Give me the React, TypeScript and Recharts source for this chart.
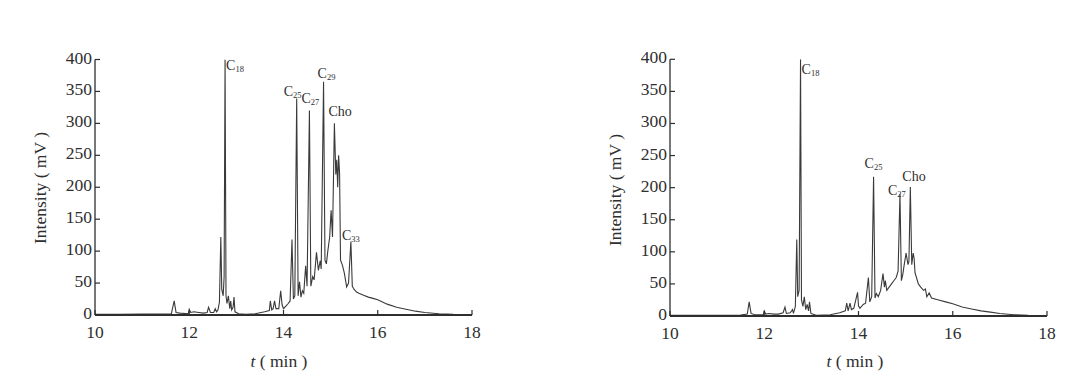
import React from "react";
import { LineChart, Line, XAxis, YAxis, ReferenceDot } from "recharts";

// left chromatogram (t in min, intensity in mV)
const leftTime = [
  10.0, 10.5, 11.0, 11.5, 11.62, 11.68, 11.72, 11.8, 11.98, 12.0, 12.03, 12.1, 12.2, 12.3, 12.38, 12.41,
  12.45, 12.52, 12.55, 12.58, 12.61, 12.64, 12.67, 12.69, 12.72, 12.74, 12.76, 12.78, 12.8, 12.83, 12.86,
  12.88, 12.9, 12.93, 12.95, 12.97, 13.05, 13.2, 13.4, 13.6, 13.7, 13.72, 13.75, 13.78, 13.81, 13.84, 13.9,
  13.94, 13.97, 14.0, 14.05, 14.1, 14.14, 14.18, 14.21, 14.24, 14.28, 14.31, 14.34, 14.37, 14.4, 14.43,
  14.47, 14.5, 14.55, 14.58, 14.62, 14.65, 14.7, 14.74, 14.78, 14.8, 14.85, 14.88, 14.91, 14.94, 14.98,
  15.01, 15.04, 15.08, 15.11, 15.13, 15.15, 15.17, 15.19, 15.21, 15.25, 15.29, 15.34, 15.38, 15.43, 15.46,
  15.5, 15.55, 15.6, 15.7, 15.8, 15.9, 16.0, 16.2, 16.4, 16.6, 16.8, 17.0, 17.3, 17.6, 17.9,
];
const leftIntensity = [
  1, 1, 1.5, 1.5, 2, 22, 4, 3, 2, 9, 4, 5, 4, 3, 4, 12,
  4, 4, 10, 5, 8, 20, 122, 40, 30, 60, 400, 30, 18, 30, 10,
  22, 8, 12, 28, 5, 2, 1, 2, 5, 7, 22, 8, 10, 22, 10, 10,
  38, 16, 10, 14, 18, 22, 118, 25, 30, 339, 30, 52, 28, 38, 34,
  77, 45, 320, 45, 60, 55, 98, 70, 85, 72, 365, 86, 80, 100, 122,
  164, 122, 300, 220, 243, 200, 250, 222, 86, 78, 66, 44, 50, 115, 45,
  40, 36, 34, 31, 28, 26, 24, 17, 12, 9, 6, 4, 2, 1, 0.5,
];

// right chromatogram
const rightTime = [
  10.0, 11.0, 11.5, 11.64, 11.68, 11.72, 11.8, 11.98, 12.0, 12.03, 12.1, 12.2, 12.3, 12.4, 12.44, 12.47,
  12.55, 12.6, 12.62, 12.66, 12.69, 12.71, 12.74, 12.77, 12.79, 12.82, 12.85, 12.88, 12.91, 12.94, 12.96,
  12.99, 13.1, 13.4, 13.6, 13.72, 13.75, 13.78, 13.82, 13.85, 13.9, 13.98, 14.0, 14.03, 14.1, 14.15, 14.21,
  14.24, 14.28, 14.32, 14.35, 14.38, 14.42, 14.47, 14.52, 14.55, 14.57, 14.6, 14.65, 14.7, 14.75, 14.8,
  14.84, 14.88, 14.91, 14.94, 14.97, 15.01, 15.05, 15.07, 15.1, 15.13, 15.16, 15.18, 15.2, 15.23, 15.27,
  15.32, 15.38, 15.42, 15.45, 15.5, 15.55, 15.7, 15.85, 16.0, 16.2, 16.4, 16.6, 16.8, 17.0, 17.3, 17.6, 17.9,
];
const rightIntensity = [
  1, 1, 1.5, 3, 22, 4, 2, 2, 8, 3, 4, 3, 3, 5, 14, 4,
  5, 10, 4, 15, 119, 30, 40, 400, 25, 15, 30, 10, 18, 8, 22,
  4, 1, 2, 5, 8, 20, 8, 20, 10, 12, 37, 16, 12, 18, 20, 60,
  22, 30, 217, 28, 35, 30, 40, 66, 45, 55, 40, 45, 50, 55, 60,
  70, 190, 55, 65, 80, 98, 80, 85, 201, 80, 98, 90, 67, 60, 50,
  45, 40, 42, 30, 36, 28, 25, 22, 19, 14, 11, 8, 6, 4, 2, 1, 0.5,
];

const xTicks = [10, 12, 14, 16, 18];
const yTicks = [0, 50, 100, 150, 200, 250, 300, 350, 400];

const leftPeakNames = ["C18", "C25", "C27", "C29", "Cho", "C33"];
const leftPeakTimes = [12.76, 14.28, 14.55, 14.85, 15.08, 15.43];
const rightPeakNames = ["C18", "C25", "C27", "Cho"];
const rightPeakTimes = [12.77, 14.32, 14.88, 15.1];

// label offsets from the peak tip, in px
const leftOffsets: [number, number][] = [[2, 11], [-12, -1], [-7, -7], [-5, -3], [-5, -6], [-8, -1]];
const rightOffsets: [number, number][] = [[2, 16], [-8, -8], [-11, 2], [-7, -5]];

const INK = "#2e2e2e";
const FONT = "'Liberation Serif', 'DejaVu Serif', serif";

function PeakLabel(props: any) {
  const { viewBox, name, dx, dy } = props;
  const x = viewBox.x + dx;
  const y = viewBox.y + dy;
  const base = name.startsWith("C") && name !== "Cho" ? "C" : name;
  const sub = base === "C" ? name.slice(1) : "";
  return (
    <text x={x} y={y} fontSize={14} fontFamily={FONT} fill={INK}>
      {base}
      {sub && (
        <tspan fontSize={8.5} dy={2}>
          {sub}
        </tspan>
      )}
    </text>
  );
}

interface ChartProps {
  time: number[];
  intensity: number[];
  names: string[];
  times: number[];
  offsets: [number, number][];
  left: number;
  top: number;
  right: number;
  bottom: number;
  titleX: number;
  titleY: number;
  tLabelX: number;
}

const W = 540;
const H = 381;

function Chromatogram(p: ChartProps) {
  const data = p.time.map((t, i) => ({ t, v: p.intensity[i] }));
  const plotBottom = H - p.bottom;

  const YTick = (tp: any) => (
    <g>
      <line x1={p.left} x2={p.left + 5} y1={tp.y} y2={tp.y} stroke={INK} strokeWidth={1.2} />
      <text x={p.left - 3} y={tp.y + 4} textAnchor="end" fontSize={17.5} fontFamily={FONT} fill={INK}>
        {tp.payload.value}
      </text>
    </g>
  );
  const XTick = (tp: any) => (
    <g>
      <line x1={tp.x} x2={tp.x} y1={plotBottom} y2={plotBottom - 5} stroke={INK} strokeWidth={1.2} />
      <text x={tp.x} y={plotBottom + 23} textAnchor="middle" fontSize={17.5} fontFamily={FONT} fill={INK}>
        {tp.payload.value}
      </text>
    </g>
  );

  return (
    <div style={{ position: "relative", width: W, height: H }}>
      <LineChart
        width={W}
        height={H}
        data={data}
        margin={{ top: p.top, right: p.right, bottom: p.bottom - 30, left: p.left - 40 }}
      >
        <XAxis
          dataKey="t"
          type="number"
          domain={[10, 18]}
          ticks={xTicks}
          height={30}
          tickLine={false}
          tickSize={0}
          tick={<XTick />}
          axisLine={{ stroke: INK, strokeWidth: 1.8 }}
          allowDataOverflow
        />
        <YAxis
          type="number"
          domain={[0, 400]}
          ticks={yTicks}
          width={40}
          tickLine={false}
          tickSize={0}
          tick={<YTick />}
          axisLine={{ stroke: INK, strokeWidth: 1.3 }}
          allowDataOverflow
        />
        <Line
          type="linear"
          dataKey="v"
          stroke="#3a3a3a"
          strokeWidth={1.1}
          dot={false}
          isAnimationActive={false}
        />
        {p.names.map((name, i) => {
          const idx = p.time.indexOf(p.times[i]);
          const [dx, dy] = p.offsets[i];
          return (
            <ReferenceDot
              key={name}
              x={p.times[i]}
              y={p.intensity[idx]}
              r={1}
              fill="none"
              stroke="none"
              label={<PeakLabel name={name} dx={dx} dy={dy} />}
            />
          );
        })}
      </LineChart>
      <div
        style={{
          position: "absolute",
          left: p.titleX,
          top: p.titleY,
          transform: "translate(-50%, -50%) rotate(-90deg)",
          whiteSpace: "nowrap",
          fontFamily: FONT,
          fontSize: 17.5,
          color: INK,
        }}
      >
        Intensity ( mV )
      </div>
      <div
        style={{
          position: "absolute",
          left: p.tLabelX,
          top: 361,
          transform: "translate(-50%, -50%)",
          whiteSpace: "nowrap",
          fontFamily: FONT,
          fontSize: 17.5,
          color: INK,
        }}
      >
        <i>t</i> ( min )
      </div>
    </div>
  );
}

export default function App() {
  return (
    <div style={{ position: "absolute", left: 0, top: 0, width: 1080, height: 381, background: "#fff", display: "flex" }}>
      <Chromatogram
        time={leftTime}
        intensity={leftIntensity}
        names={leftPeakNames}
        times={leftPeakTimes}
        offsets={leftOffsets}
        left={95}
        top={59.5}
        right={68}
        bottom={66}
        titleX={40}
        titleY={188}
        tLabelX={279}
      />
      <Chromatogram
        time={rightTime}
        intensity={rightIntensity}
        names={rightPeakNames}
        times={rightPeakTimes}
        offsets={rightOffsets}
        left={130}
        top={59.3}
        right={33}
        bottom={65}
        titleX={75}
        titleY={190}
        tLabelX={315}
      />
    </div>
  );
}
